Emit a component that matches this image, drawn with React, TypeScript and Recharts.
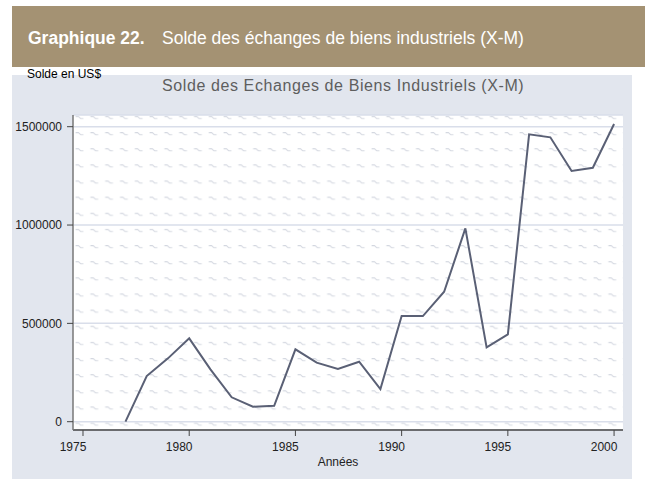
import React from "react";
import { LineChart, Line, XAxis, YAxis, CartesianGrid } from "recharts";

const years = [1977, 1978, 1979, 1980, 1981, 1982, 1983, 1984, 1985, 1986, 1987, 1988, 1989, 1990, 1991, 1992, 1993, 1994, 1995, 1996, 1997, 1998, 1999, 2000];
const solde = [0, 232000, 322000, 424000, 266000, 124000, 76000, 81000, 368000, 300000, 268000, 305000, 166000, 537000, 537000, 661000, 983000, 378000, 444000, 1461000, 1446000, 1275000, 1291000, 1514000];
const xTicks = [1975, 1980, 1985, 1990, 1995, 2000];
const yTicks = [0, 500000, 1000000, 1500000];

const data = years.map((y, i) => ({ year: y, value: solde[i] }));

const FONT = "'Liberation Sans', Arial, Helvetica, sans-serif";

const XTick = (props: any) => {
  const { x, y, payload } = props;
  return (
    <text x={x - 10} y={y} dy="0.71em" textAnchor="middle" fontSize={12} fill="#222" fontFamily={FONT}>
      {payload.value}
    </text>
  );
};

export default function App() {
  return (
    <div style={{ position: "absolute", left: 0, top: 0, width: 645, height: 479, background: "#fff", overflow: "hidden", fontFamily: FONT }}>
      <div style={{ position: "absolute", left: 12, top: 6, width: 633, height: 61, background: "#a49273" }} />
      <div style={{ position: "absolute", left: 28, top: 26, fontSize: 17.5, fontWeight: "bold", color: "#fff", whiteSpace: "nowrap", lineHeight: "24px" }}>
        Graphique 22.
      </div>
      <div style={{ position: "absolute", left: 162, top: 26, fontSize: 17.5, color: "#fff", whiteSpace: "nowrap", lineHeight: "24px" }}>
        Solde des échanges de biens industriels (X-M)
      </div>
      <div style={{ position: "absolute", left: 12, top: 75, width: 620, height: 404, background: "#e2e6ee" }} />
      <div style={{ position: "absolute", left: 27, top: 66, fontSize: 12, color: "#000", whiteSpace: "nowrap", lineHeight: "16px" }}>
        Solde en US$
      </div>
      <div style={{ position: "absolute", left: 162, top: 76, fontSize: 16, letterSpacing: "0.6px", color: "#5e5e5e", whiteSpace: "nowrap", lineHeight: "20px" }}>
        Solde des Echanges de Biens Industriels (X-M)
      </div>
      <div style={{ position: "absolute", left: 0, width: 676, top: 454, textAlign: "center", fontSize: 12, color: "#222", whiteSpace: "nowrap", lineHeight: "16px" }}>
        Années
      </div>
      <div style={{ position: "absolute", left: 0, top: 0 }}>
        <LineChart width={645} height={479} data={data} margin={{ top: 115, right: 22, bottom: 19, left: 12 }}>
          <defs>
            <pattern id="tildes" patternUnits="userSpaceOnUse" x={75} y={114} width={14.8} height={16.14}>
              <rect x={0} y={0} width={14.8} height={16.14} fill="#ffffff" />
              <path d="M1,2.5 L3.5,2.5 L5.5,4.5 L8,4.5" stroke="#d3d7e0" strokeWidth={1} fill="none" strokeLinejoin="round" strokeLinecap="round" />
            </pattern>
          </defs>
          <CartesianGrid vertical={false} stroke="#d9deea" strokeWidth={1.5} fill="url(#tildes)" fillOpacity={1} />
          <XAxis
            dataKey="year"
            type="number"
            domain={[1974.53, 2000.42]}
            ticks={xTicks}
            allowDataOverflow
            height={30}
            tickSize={6}
            tickMargin={6}
            axisLine={{ stroke: "#444", strokeWidth: 1.5 }}
            tickLine={{ stroke: "#444" }}
            tick={<XTick />}
          />
          <YAxis
            type="number"
            domain={[-42200, 1559500]}
            ticks={yTicks}
            allowDataOverflow
            width={61}
            tickSize={6}
            tickMargin={5}
            axisLine={{ stroke: "#777", strokeWidth: 1.5 }}
            tickLine={{ stroke: "#444" }}
            tick={{ fontSize: 12, fill: "#222", fontFamily: FONT }}
            tickFormatter={(v: number) => String(v)}
          />
          <Line type="linear" dataKey="value" stroke="#5a6075" strokeWidth={2} dot={false} isAnimationActive={false} />
        </LineChart>
      </div>
    </div>
  );
}
